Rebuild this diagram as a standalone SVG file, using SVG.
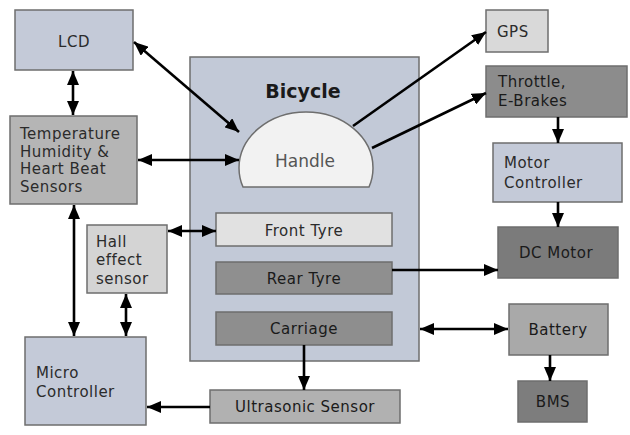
<svg xmlns="http://www.w3.org/2000/svg" width="630" height="435" viewBox="0 0 630 435">
<style>
.box{stroke:#6e6e6e;stroke-width:1.5}
.blue{fill:#c4cad8}
.t{font-family:"DejaVu Sans",sans-serif;font-size:15px;letter-spacing:0.5px;fill:#2b2b2b}
.d{fill:#1a1a1a}
.c{text-anchor:middle}
.conn line{stroke:#000;stroke-width:2.6;fill:none}
</style>
<defs>
<marker id="ah" viewBox="0 0 14 12" refX="14" refY="6" markerWidth="14" markerHeight="12" markerUnits="userSpaceOnUse" orient="auto-start-reverse">
<path d="M0,0 L14,6 L0,12 Z" fill="#000"/>
</marker>
</defs>
<rect width="630" height="435" fill="#fff"/>

<g id="bicycle">
<rect class="box" x="190" y="57" width="229" height="304" fill="#c2c9d7"/>
<text x="303" y="98" font-family="'DejaVu Sans',sans-serif" font-size="19" font-weight="bold" fill="#1a1a1a" text-anchor="middle">Bicycle</text>
</g>
<g id="handle">
<path class="box" d="M243,187 Q239,178 239,168 A67 56 0 1 1 373,168 Q373,178 369,187 Z" fill="#f2f2f2"/>
<text x="305" y="167" font-family="'DejaVu Sans',sans-serif" font-size="17" fill="#555" text-anchor="middle">Handle</text>
</g>
<g id="front-tyre">
<rect class="box" x="216" y="213" width="176" height="33" fill="#e1e1e1"/>
<text class="t c" x="304" y="236">Front Tyre</text>
</g>
<g id="rear-tyre">
<rect class="box" x="216" y="262" width="176" height="32" fill="#8f8f8f"/>
<text class="t c d" x="304" y="284">Rear Tyre</text>
</g>
<g id="carriage">
<rect class="box" x="216" y="312" width="176" height="33" fill="#8e8e8e"/>
<text class="t c d" x="304" y="334">Carriage</text>
</g>
<g id="lcd">
<rect class="box blue" x="15" y="10" width="118" height="60"/>
<text class="t c" x="74" y="47">LCD</text>
</g>
<g id="sensors">
<rect class="box" x="10" y="116" width="127" height="88" fill="#b5b5b5"/>
<text class="t" x="20" y="139">Temperature</text>
<text class="t" x="20" y="157">Humidity &amp;</text>
<text class="t" x="20" y="174">Heart Beat</text>
<text class="t" x="20" y="192">Sensors</text>
</g>
<g id="hall">
<rect class="box" x="87" y="225" width="80" height="68" fill="#d4d4d4"/>
<text class="t" x="96" y="247">Hall</text>
<text class="t" x="96" y="265">effect</text>
<text class="t" x="96" y="284">sensor</text>
</g>
<g id="micro">
<rect class="box blue" x="25" y="337" width="121" height="88"/>
<text class="t" x="36" y="378">Micro</text>
<text class="t" x="36" y="397">Controller</text>
</g>
<g id="ultrasonic">
<rect class="box" x="210" y="390" width="190" height="33" fill="#b1b1b1"/>
<text class="t c d" x="305" y="412">Ultrasonic Sensor</text>
</g>
<g id="gps">
<rect class="box" x="486" y="10" width="62" height="42" fill="#d9d9d9"/>
<text class="t" x="497" y="37">GPS</text>
</g>
<g id="throttle">
<rect class="box" x="486" y="66" width="141" height="51" fill="#8c8c8c"/>
<text class="t d" x="498" y="87">Throttle,</text>
<text class="t d" x="498" y="106">E-Brakes</text>
</g>
<g id="motor-controller">
<rect class="box blue" x="493" y="143" width="129" height="59"/>
<text class="t" x="504" y="168">Motor</text>
<text class="t" x="504" y="188">Controller</text>
</g>
<g id="dc-motor">
<rect class="box" x="498" y="227" width="120" height="51" fill="#7b7b7b"/>
<text class="t c d" x="556" y="258">DC Motor</text>
</g>
<g id="battery">
<rect class="box" x="509" y="304" width="99" height="51" fill="#a9a9a9"/>
<text class="t c d" x="558" y="335">Battery</text>
</g>
<g id="bms">
<rect class="box" x="518" y="381" width="69" height="41" fill="#7d7d7d"/>
<text class="t c d" x="553" y="407">BMS</text>
</g>

<g class="conn" id="connectors">
<line x1="134" y1="42" x2="239" y2="132" marker-start="url(#ah)" marker-end="url(#ah)"/>
<line x1="73" y1="71" x2="73" y2="115" marker-start="url(#ah)" marker-end="url(#ah)"/>
<line x1="138" y1="160" x2="239" y2="160" marker-start="url(#ah)" marker-end="url(#ah)"/>
<line x1="353" y1="126" x2="486" y2="32" marker-end="url(#ah)"/>
<line x1="372" y1="148" x2="486" y2="93" marker-end="url(#ah)"/>
<line x1="558" y1="117" x2="558" y2="143" marker-end="url(#ah)"/>
<line x1="558" y1="202" x2="558" y2="227" marker-end="url(#ah)"/>
<line x1="392" y1="270" x2="498" y2="270" marker-end="url(#ah)"/>
<line x1="420" y1="329" x2="508" y2="329" marker-start="url(#ah)" marker-end="url(#ah)"/>
<line x1="550" y1="355" x2="550" y2="381" marker-end="url(#ah)"/>
<line x1="168" y1="231" x2="216" y2="231" marker-start="url(#ah)" marker-end="url(#ah)"/>
<line x1="74" y1="205" x2="74" y2="336" marker-start="url(#ah)" marker-end="url(#ah)"/>
<line x1="126" y1="294" x2="126" y2="336" marker-start="url(#ah)" marker-end="url(#ah)"/>
<line x1="304" y1="345" x2="304" y2="390" marker-end="url(#ah)"/>
<line x1="210" y1="407" x2="147" y2="407" marker-end="url(#ah)"/>
</g>
</svg>
